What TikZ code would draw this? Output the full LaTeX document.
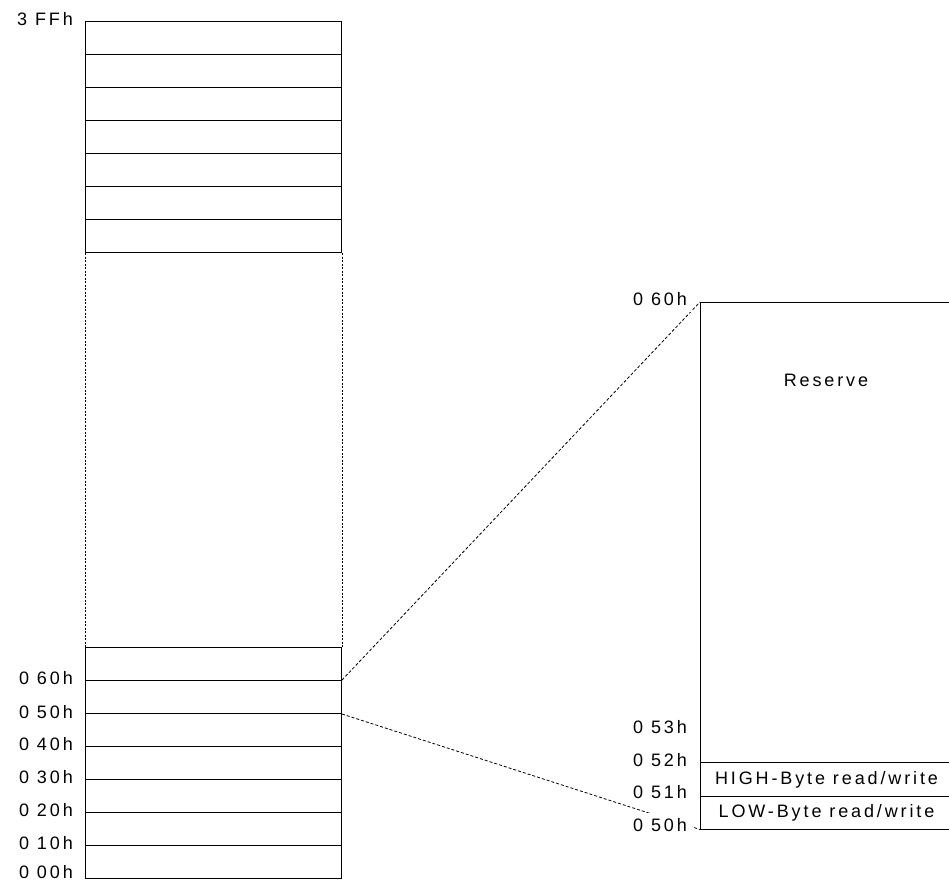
\documentclass[tikz,border=0pt]{standalone}
\usepackage{fontspec}
\setmainfont{Liberation Sans}
\newfontfamily\labfont[LetterSpace=16]{Liberation Sans}
\begin{document}
\begin{tikzpicture}[x=1pt,y=-1pt,
  cell/.style={draw=black, line width=1pt, minimum width=256pt, minimum height=33pt, inner sep=0pt, anchor=north west},
  rcell/.style={draw=black, line width=1pt, minimum width=252pt, inner sep=0pt, anchor=north west},
  txt/.style={font=\labfont\fontsize{18}{21}\selectfont, inner sep=0pt},
  lbl/.style={font=\labfont\fontsize{18}{21}\selectfont, fill=white, inner xsep=5pt, inner ysep=6pt, anchor=east},
  dotside/.style={line width=0.8pt, dash pattern=on 2pt off 1.5pt},
  conn/.style={line width=0.8pt, dash pattern=on 3pt off 2pt}]
\useasboundingbox (0,0) rectangle (949,879);
\clip (0,0) rectangle (949,879);
% upper cells of the left column
\foreach \i in {1,...,7} {
  \node[cell] (u\i) at (85,{21+33*(\i-1)}) {};
}
% lower cells of the left column
\node[cell] (m60) at (85,647) {};
\node[cell] (m50) at (85,680) {};
\node[cell] (m40) at (85,713) {};
\node[cell] (m30) at (85,746) {};
\node[cell] (m20) at (85,779) {};
\node[cell] (m10) at (85,812) {};
\node[cell] (m00) at (85,845) {};
% dotted sides
\draw[dotside] (u7.south west) -- (m60.north west);
\draw[dotside] (u7.south east) -- (m60.north east);
% right column
\node[rcell, minimum height=460pt] (res) at (700,302) {};
\node[rcell, minimum height=34pt] (rhigh) at (700,762) {\labfont\fontsize{18}{21}\selectfont HIGH-Byte read/write};
\node[rcell, minimum height=32.5pt] (rlow) at (700,796) {\labfont\fontsize{18}{21}\selectfont LOW-Byte read/write};
\node[txt] (restxt) at (826,380.5) {Reserve};
% connectors
\draw[conn] (m50.north east) -- (res.north west);
\draw[conn] (m50.south east) -- (rlow.south west);
% left labels
\node[lbl] (l3ff) at (78,18.7) {3 FFh};
\node[lbl] (l60) at (78,678.5) {0 60h};
\node[lbl] (l50) at (78,711.8) {0 50h};
\node[lbl] (l40) at (78,744) {0 40h};
\node[lbl] (l30) at (78,777.5) {0 30h};
\node[lbl] (l20) at (78,810) {0 20h};
\node[lbl] (l10) at (78,843) {0 10h};
\node[lbl] (l00) at (78,872) {0 00h};
% right labels
\node[lbl] (r60) at (692,299) {0 60h};
\node[lbl] (r53) at (692,727) {0 53h};
\node[lbl] (r52) at (692,760.5) {0 52h};
\node[lbl] (r51) at (692,792.5) {0 51h};
\node[lbl] (r50) at (692,825.5) {0 50h};
\end{tikzpicture}
\end{document}
